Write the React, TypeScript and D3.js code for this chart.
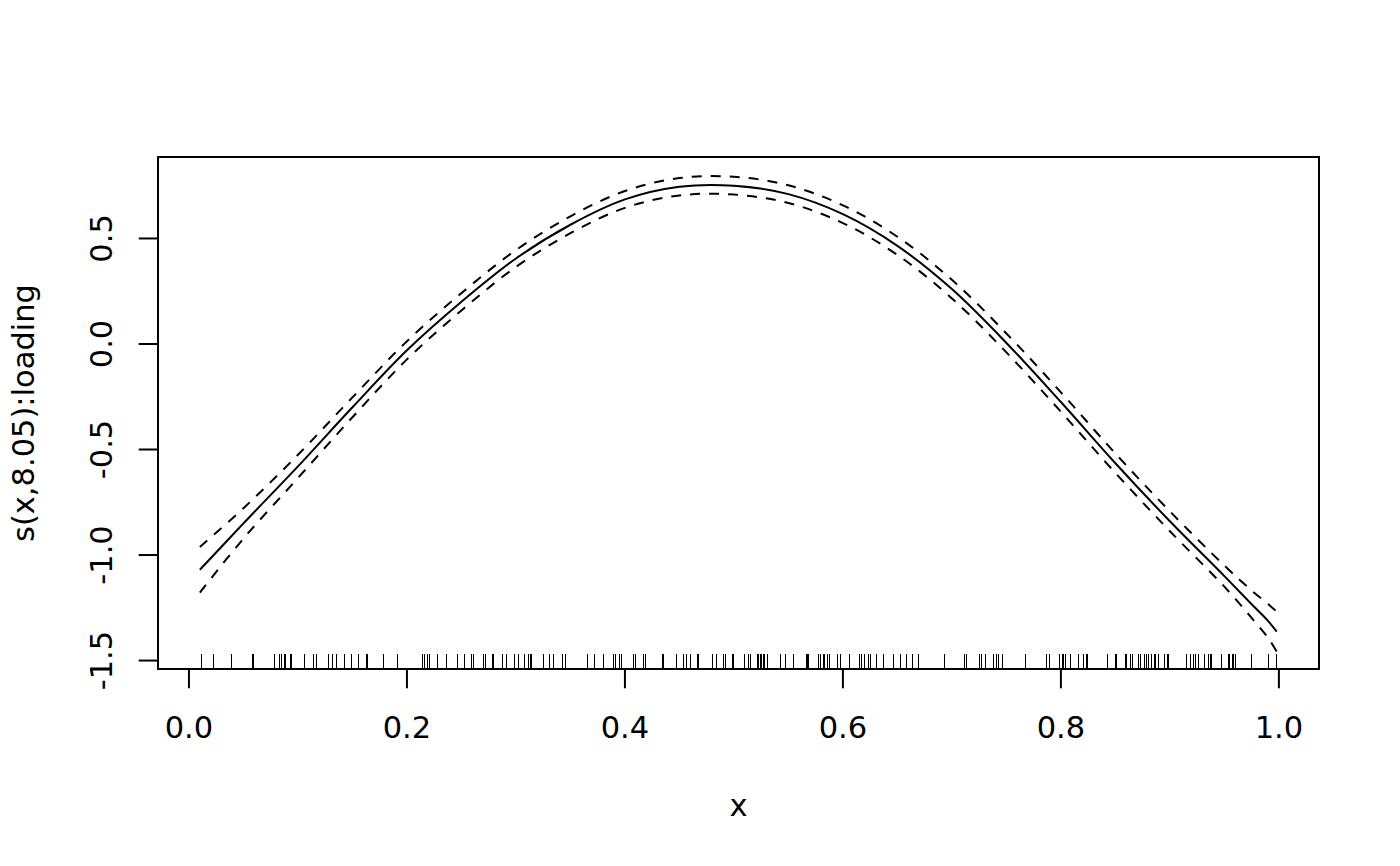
import * as d3 from "d3"

// smooth term estimate s(x) with +/- 2 se band
const gridX = [0.01, 0.05, 0.1, 0.15, 0.2, 0.25, 0.3, 0.35, 0.4, 0.45, 0.5, 0.55, 0.6, 0.65, 0.7, 0.75, 0.8, 0.85, 0.9, 0.95, 0.975, 0.99, 0.998]
const fit = [-1.07, -0.85, -0.58, -0.3, -0.03, 0.2, 0.405, 0.565, 0.685, 0.745, 0.75, 0.71, 0.615, 0.465, 0.26, 0.005, -0.275, -0.565, -0.84, -1.1, -1.233, -1.312, -1.363]
const upper = [-0.962, -0.778, -0.525, -0.253, 0.013, 0.241, 0.445, 0.605, 0.725, 0.786, 0.792, 0.752, 0.657, 0.508, 0.304, 0.05, -0.229, -0.519, -0.793, -1.05, -1.168, -1.232, -1.268]
const lower = [-1.178, -0.922, -0.635, -0.347, -0.073, 0.159, 0.365, 0.525, 0.645, 0.704, 0.708, 0.668, 0.573, 0.422, 0.216, -0.04, -0.321, -0.611, -0.887, -1.15, -1.298, -1.392, -1.458]

// rug of observed x values
const rugX = [
  0.011, 0.022, 0.039, 0.058, 0.059, 0.078, 0.083, 0.084, 0.087, 0.088, 0.093, 0.094, 0.106, 0.114, 0.117,
  0.128, 0.131, 0.135, 0.142, 0.149, 0.155, 0.162, 0.163, 0.178, 0.191, 0.214, 0.216, 0.218, 0.22,
  0.228, 0.236, 0.246, 0.252, 0.259, 0.261, 0.27, 0.272, 0.278, 0.279, 0.287, 0.291, 0.298, 0.302, 0.307,
  0.311, 0.313, 0.314, 0.325, 0.33, 0.334, 0.342, 0.345, 0.365, 0.372, 0.38, 0.389, 0.391, 0.395, 0.396,
  0.407, 0.409, 0.417, 0.418, 0.434, 0.435, 0.447,
  0.453, 0.456, 0.46, 0.466, 0.467, 0.48, 0.484, 0.49, 0.492, 0.498, 0.499, 0.509, 0.513, 0.515, 0.521,
  0.522, 0.524, 0.525, 0.527, 0.528, 0.53, 0.542, 0.547, 0.554, 0.566, 0.567, 0.568, 0.577, 0.579, 0.582,
  0.583, 0.585, 0.587, 0.595, 0.597, 0.606, 0.615, 0.617, 0.619, 0.623, 0.625, 0.63, 0.637, 0.646, 0.652,
  0.658, 0.663, 0.669,
  0.693, 0.711, 0.713, 0.725, 0.727, 0.73, 0.738, 0.74, 0.742, 0.746, 0.767, 0.786, 0.789, 0.798, 0.801,
  0.802, 0.804, 0.808, 0.816, 0.82, 0.823, 0.824, 0.842, 0.85, 0.851, 0.859, 0.86, 0.863, 0.865, 0.871,
  0.873, 0.876, 0.878, 0.88, 0.883, 0.885, 0.886, 0.889, 0.895, 0.897, 0.898,
  0.915, 0.918, 0.921, 0.923, 0.926, 0.931, 0.935, 0.937, 0.938, 0.947, 0.953, 0.954, 0.957, 0.958, 0.96,
  0.974, 0.99, 0.997,
]

const xTicks = [0, 0.2, 0.4, 0.6, 0.8, 1.0]
const yTicks = [-1.5, -1.0, -0.5, 0.0, 0.5]
const xTitle = "x"
const yTitle = "s(x,8.05):loading"

const W = 1400
const H = 866
const box = { left: 158, right: 1319, top: 157, bottom: 669 }
const lineH = 38.6
const font = "'DejaVu Sans', sans-serif"
const fontSize = 30.5

export default function App() {
  const x = d3.scaleLinear().domain([-0.0284, 1.0368]).range([box.left, box.right])
  const y = d3.scaleLinear().domain([-1.54, 0.886]).range([box.bottom, box.top])

  const pts = (vals: number[]) => gridX.map((gx, i) => [gx, vals[i]] as [number, number])
  const line = d3
    .line<[number, number]>()
    .x((d) => x(d[0]))
    .y((d) => y(d[1]))
    .curve(d3.curveCatmullRom.alpha(0.5))

  const tickLen = lineH / 2
  const rugLen = 0.03 * (box.bottom - box.top)
  const fmt = (v: number) => v.toFixed(1)

  return (
    <div style={{ position: "absolute", left: 0, top: 0 }}>
      <svg width={W} height={H} style={{ display: "block", background: "#fff" }} fontFamily={font}>
        <rect x={0} y={0} width={W} height={H} fill="#fff" />

        {/* rug */}
        <g stroke="#000" strokeWidth={1} shapeRendering="crispEdges">
          {rugX.map((r, i) => (
            <line key={i} x1={Math.round(x(r)) + 0.5} x2={Math.round(x(r)) + 0.5} y1={box.bottom} y2={box.bottom - rugLen} />
          ))}
        </g>

        {/* fit and confidence band */}
        <path d={line(pts(fit)) ?? ""} fill="none" stroke="#000" strokeWidth={2} />
        <path d={line(pts(upper)) ?? ""} fill="none" stroke="#000" strokeWidth={2} strokeDasharray="10,9" />
        <path d={line(pts(lower)) ?? ""} fill="none" stroke="#000" strokeWidth={2} strokeDasharray="10,9" />

        {/* plot box */}
        <rect
          x={box.left}
          y={box.top}
          width={box.right - box.left}
          height={box.bottom - box.top}
          fill="none"
          stroke="#000"
          strokeWidth={2}
        />

        {/* x axis */}
        <g>
          {xTicks.map((t) => (
            <g key={t}>
              <line x1={x(t)} x2={x(t)} y1={box.bottom} y2={box.bottom + tickLen} stroke="#000" strokeWidth={2} />
              <text x={x(t)} y={box.bottom + lineH * 1.8} textAnchor="middle" fontSize={fontSize}>
                {fmt(t)}
              </text>
            </g>
          ))}
        </g>

        {/* y axis */}
        <g>
          {yTicks.map((t) => (
            <g key={t}>
              <line x1={box.left} x2={box.left - tickLen} y1={y(t)} y2={y(t)} stroke="#000" strokeWidth={2} />
              <text
                transform={`translate(${box.left - lineH * 1.2},${y(t)}) rotate(-90)`}
                textAnchor="middle"
                fontSize={fontSize}
              >
                {fmt(t)}
              </text>
            </g>
          ))}
        </g>

        {/* axis titles */}
        <text x={(box.left + box.right) / 2} y={box.bottom + lineH * 3.8} textAnchor="middle" fontSize={fontSize}>
          {xTitle}
        </text>
        <text
          transform={`translate(${box.left - lineH * 3.2},${(box.top + box.bottom) / 2}) rotate(-90)`}
          textAnchor="middle"
          fontSize={fontSize}
        >
          {yTitle}
        </text>
      </svg>
    </div>
  )
}
